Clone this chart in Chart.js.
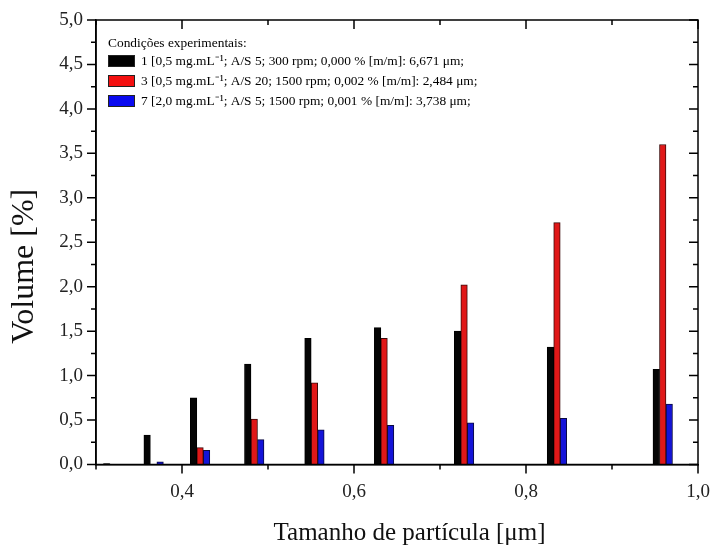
<!DOCTYPE html>
<html>
<head>
<meta charset="utf-8">
<script src="https://cdn.jsdelivr.net/npm/chart.js@4.4.1/dist/chart.umd.min.js"></script>
<style>
  body { margin: 0; background: #fff; }
  #wrap { width: 713px; height: 546px; }
</style>
</head>
<body>
<div id="wrap"><canvas id="grafico" width="713" height="546"></canvas></div>
<script>
// dados
const tamanhos = [0.320, 0.367, 0.421, 0.484, 0.554, 0.635, 0.728, 0.836, 0.959];
const volume1 = [0.01, 0.33, 0.75, 1.13, 1.42, 1.54, 1.50, 1.32, 1.07];
const volume3 = [0, 0, 0.19, 0.51, 0.92, 1.42, 2.02, 2.72, 3.60];
const volume7 = [0, 0.03, 0.16, 0.28, 0.39, 0.44, 0.47, 0.52, 0.68];

const rotulos = [
  "1 [0,5 mg.mL\u207B\u00B9; A/S 5; 300 rpm; 0,000 % [m/m]: 6,671 \u03BCm;",
  "3 [0,5 mg.mL\u207B\u00B9; A/S 20; 1500 rpm; 0,002 % [m/m]: 2,484 \u03BCm;",
  "7 [2,0 mg.mL\u207B\u00B9; A/S 5; 1500 rpm; 0,001 % [m/m]: 3,738 \u03BCm;"
];
const tituloLegenda = "Condições experimentais:";

const serif = "'Liberation Serif', 'Times New Roman', serif";

function pontos(valores) {
  return tamanhos.map((t, i) => ({ x: t, y: valores[i] }));
}

function virgula(v) {
  return v.toFixed(1).replace(".", ",");
}

// legenda dentro da área do gráfico
const legendaPlugin = {
  id: "legendaInterna",
  afterDraw(chart) {
    const ctx = chart.ctx;
    ctx.save();
    ctx.font = "13.4px " + serif;
    ctx.fillStyle = "#000";
    ctx.textBaseline = "middle";
    ctx.fillText(tituloLegenda, 108, 43);
    chart.data.datasets.forEach((ds, i) => {
      const yc = 61 + i * 20;
      ctx.fillStyle = ds.legendColor;
      ctx.fillRect(108, yc - 6, 27, 12);
      ctx.strokeStyle = "#222";
      ctx.lineWidth = 1;
      ctx.strokeRect(108.5, yc - 5.5, 26, 11);
      ctx.fillStyle = "#000";
      ctx.fillText(ds.label, 141, yc);
    });
    ctx.restore();
  }
};

// moldura com marcas maiores e menores
const molduraPlugin = {
  id: "moldura",
  afterDraw(chart) {
    const { ctx, chartArea: a, scales: { x, y } } = chart;
    ctx.save();
    ctx.strokeStyle = "#000";
    ctx.lineWidth = 1.5;
    ctx.strokeRect(a.left, a.top, a.right - a.left, a.bottom - a.top);
    ctx.beginPath();
    x.ticks.forEach(t => {
      const px = x.getPixelForValue(t.value);
      const len = Math.round(t.value * 10) % 2 === 0 ? 9 : 5;
      ctx.moveTo(px, a.bottom);
      ctx.lineTo(px, a.bottom + len);
      ctx.moveTo(px, a.top);
      ctx.lineTo(px, a.top + len);
    });
    y.ticks.forEach(t => {
      const py = y.getPixelForValue(t.value);
      const len = Math.round(t.value * 4) % 2 === 0 ? 9 : 5;
      ctx.moveTo(a.left, py);
      ctx.lineTo(a.left - len, py);
      ctx.moveTo(a.right, py);
      ctx.lineTo(a.right - len, py);
    });
    ctx.stroke();
    ctx.restore();
  }
};

const ctx = document.getElementById("grafico").getContext("2d");
new Chart(ctx, {
  type: "bar",
  data: {
    datasets: [
      {
        label: rotulos[0],
        data: pontos(volume1),
        backgroundColor: "#050505",
        legendColor: "#000000",
        borderColor: "#000",
        borderWidth: 1
      },
      {
        label: rotulos[1],
        data: pontos(volume3),
        backgroundColor: "#e01818",
        legendColor: "#f41010",
        borderColor: "#3a0a0a",
        borderWidth: 1
      },
      {
        label: rotulos[2],
        data: pontos(volume7),
        backgroundColor: "#1414d8",
        legendColor: "#0a0af0",
        borderColor: "#0a0a40",
        borderWidth: 1
      }
    ]
  },
  options: {
    responsive: false,
    animation: false,
    barThickness: 6.5,
    layout: { padding: { top: 20, right: 15, left: 0, bottom: 0 } },
    plugins: {
      legend: { display: false },
      tooltip: { enabled: false }
    },
    scales: {
      x: {
        type: "linear",
        offset: false,
        min: 0.3,
        max: 1.0,
        grid: { display: false, drawTicks: true, tickLength: 9 },
        border: { display: true, color: "#000", width: 1.5 },
        ticks: {
          stepSize: 0.1,
          padding: 7,
          color: "#222",
          maxRotation: 0,
          autoSkip: false,
          font: { family: serif, size: 19 },
          callback: v => Math.round(v * 10) % 2 === 0 ? virgula(v) : ""
        },
        title: {
          display: true,
          text: "    Tamanho de partícula [μm]",
          color: "#111",
          padding: 0,
          font: { family: serif, size: 25, lineHeight: 1 }
        },
        afterFit: s => {
          s.height = 81.5;
          s.paddingLeft = 0;
          s.paddingRight = 0;
        }
      },
      y: {
        min: 0,
        max: 5,
        grid: { display: false, drawTicks: true, tickLength: 9 },
        border: { display: true, color: "#000", width: 1.5 },
        ticks: {
          stepSize: 0.25,
          padding: 4,
          color: "#222",
          autoSkip: false,
          font: { family: serif, size: 19 },
          callback: v => Math.round(v * 4) % 2 === 0 ? virgula(v) : ""
        },
        title: {
          display: true,
          text: "Volume [%]      ",
          color: "#111",
          padding: { top: 9, bottom: 0 },
          font: { family: serif, size: 32, lineHeight: 1 }
        },
        afterFit: s => { s.width = 96; }
      }
    }
  },
  plugins: [molduraPlugin, legendaPlugin]
});
</script>
</body>
</html>
